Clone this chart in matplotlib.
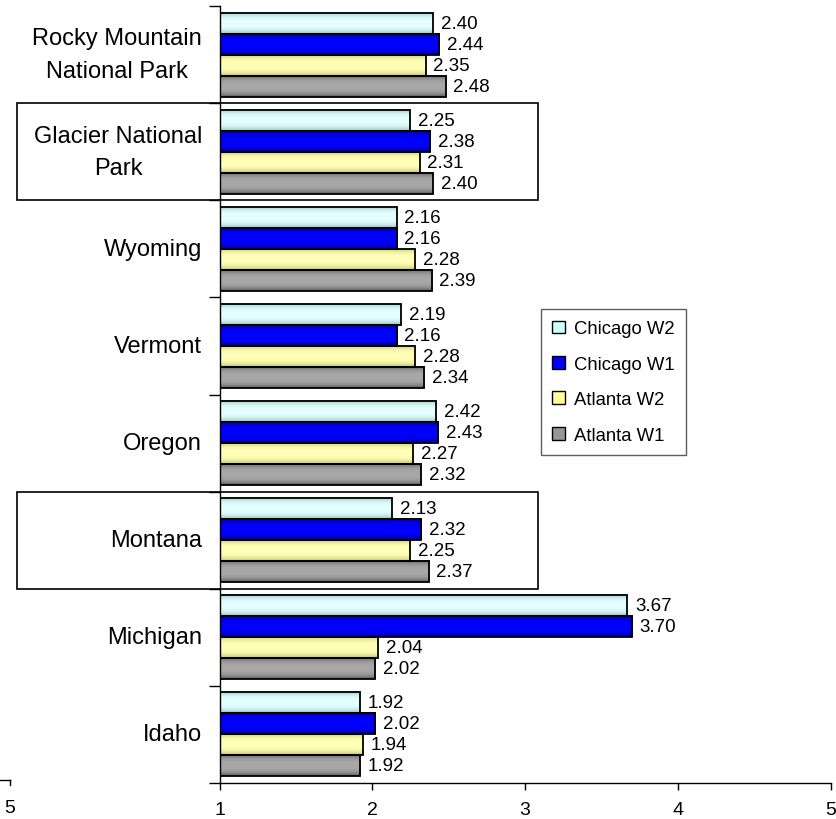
import numpy as np
import matplotlib
matplotlib.use("Agg")
import matplotlib.pyplot as plt
from matplotlib.patches import Patch, Rectangle
from matplotlib.lines import Line2D
from matplotlib.colors import to_rgb
import matplotlib.transforms as mtransforms

plt.rcParams['font.family'] = ['Liberation Sans', 'DejaVu Sans']

# Categories listed bottom -> top
categories = ["Idaho", "Michigan", "Montana", "Oregon", "Vermont", "Wyoming",
              "Glacier National\nPark", "Rocky Mountain\nNational Park"]
series_names = ["Chicago W2", "Chicago W1", "Atlanta W2", "Atlanta W1"]
chicago_w2 = [1.92, 3.67, 2.13, 2.42, 2.19, 2.16, 2.25, 2.40]
chicago_w1 = [2.02, 3.70, 2.32, 2.43, 2.16, 2.16, 2.38, 2.44]
atlanta_w2 = [1.94, 2.04, 2.25, 2.27, 2.28, 2.28, 2.31, 2.35]
atlanta_w1 = [1.92, 2.02, 2.37, 2.32, 2.34, 2.39, 2.40, 2.48]
x_ticks = [1, 2, 3, 4, 5]
highlighted = ["Glacier National\nPark", "Montana"]

series_values = [chicago_w2, chicago_w1, atlanta_w2, atlanta_w1]
base_colors = ["#CCFFFF", "#0000FF", "#FFFF99", "#969696"]
edge_colors = ["#8FBFBF", "#00008C", "#BFBF6A", "#5A5A5A"]
center_colors = ["#E4FFFF", "#0000FF", "#FFFFB8", "#A8A8A8"]

W, H = 836, 820
fig = plt.figure(figsize=(W / 100, H / 100), dpi=100)
ax_left, ax_right = 219.5 / W, 830.5 / W
ax_bottom, ax_top = (H - 784) / H, (H - 7) / H
ax = fig.add_axes([ax_left, ax_bottom, ax_right - ax_left, ax_top - ax_bottom])

n = len(categories)
bar_h = 21.0 / 97.1
offsets = [1.5, 0.5, -0.5, -1.5]
centers = np.arange(n) + 0.5

for vals, off, base, ec, cc in zip(series_values, offsets, base_colors, edge_colors, center_colors):
    ypos = centers + off * bar_h
    bars = ax.barh(ypos, np.array(vals) - 1, left=1, height=bar_h,
                   facecolor='none', edgecolor='black', linewidth=1.3, zorder=3)
    t = np.linspace(0, 1, 32)
    w = 1 - np.abs(2 * t - 1) ** 3
    ecr, ccr = np.array(to_rgb(ec)), np.array(to_rgb(cc))
    grad = ecr[None, :] + (ccr - ecr)[None, :] * w[:, None]
    grad = grad[:, None, :]
    for p, v in zip(bars.patches, vals):
        x0, y0 = p.get_x(), p.get_y()
        ax.imshow(grad, extent=(x0, x0 + p.get_width(), y0, y0 + p.get_height()),
                  aspect='auto', origin='lower', zorder=2, interpolation='bilinear')
        ax.annotate(f"{v:.2f}", xy=(v, y0 + p.get_height() / 2), xytext=(5.5, 0),
                    textcoords='offset points', ha='left', va='center',
                    fontsize=13.5, color='black', zorder=4)

ax.set_xlim(1, 5)
ax.set_ylim(0, n)
ax.set_aspect('auto')

# x axis
ax.set_xticks(x_ticks)
ax.set_xticklabels([str(v) for v in x_ticks])
ax.tick_params(axis='x', direction='out', length=5, width=1, labelsize=14, pad=8)

# y axis: boundary ticks, labels at centres
ax.set_yticks(np.arange(n + 1))
ax.set_yticklabels([])
ax.set_yticks(centers, minor=True)
ax.set_yticklabels(categories, minor=True, fontsize=17, ha='right', va='center',
                   multialignment='center', linespacing=1.6)
ax.tick_params(axis='y', which='major', direction='out', length=8, width=1)
ax.tick_params(axis='y', which='minor', length=0, pad=12.5)

for s in ['top', 'right']:
    ax.spines[s].set_visible(False)
for s in ['left', 'bottom']:
    ax.spines[s].set_linewidth(1)

# highlight boxes around selected categories
trans = mtransforms.blended_transform_factory(fig.transFigure, ax.transData)
for name in highlighted:
    i = categories.index(name)
    r = Rectangle((17 / W, i), (538 - 17) / W, 1, transform=trans, fill=False,
                  edgecolor='black', linewidth=1.2, clip_on=False, zorder=5)
    ax.add_artist(r)

# legend
handles = [Patch(facecolor=c, edgecolor='black', linewidth=1) for c in base_colors]
leg = ax.legend(handles, series_names, loc='upper left',
                bbox_to_anchor=((541 - 219.5) / 611, (784 - 310) / 777),
                fontsize=13.3, frameon=True, fancybox=False, edgecolor='#333333',
                handlelength=0.7, handleheight=0.7, handletextpad=0.45,
                labelspacing=1.0, borderpad=0.62, borderaxespad=0)
leg.get_frame().set_linewidth(1)

# stray axis fragment at bottom-left
fig.add_artist(Line2D([0, 10 / W], [(H - 781) / H, (H - 781) / H], color='black', lw=1))
fig.add_artist(Line2D([10 / W, 10 / W], [(H - 781) / H, (H - 786) / H], color='black', lw=1))
fig.text(10 / W, (H - 809) / H, "5", ha='center', va='center', fontsize=14)

fig.savefig("out.png", dpi=100)
